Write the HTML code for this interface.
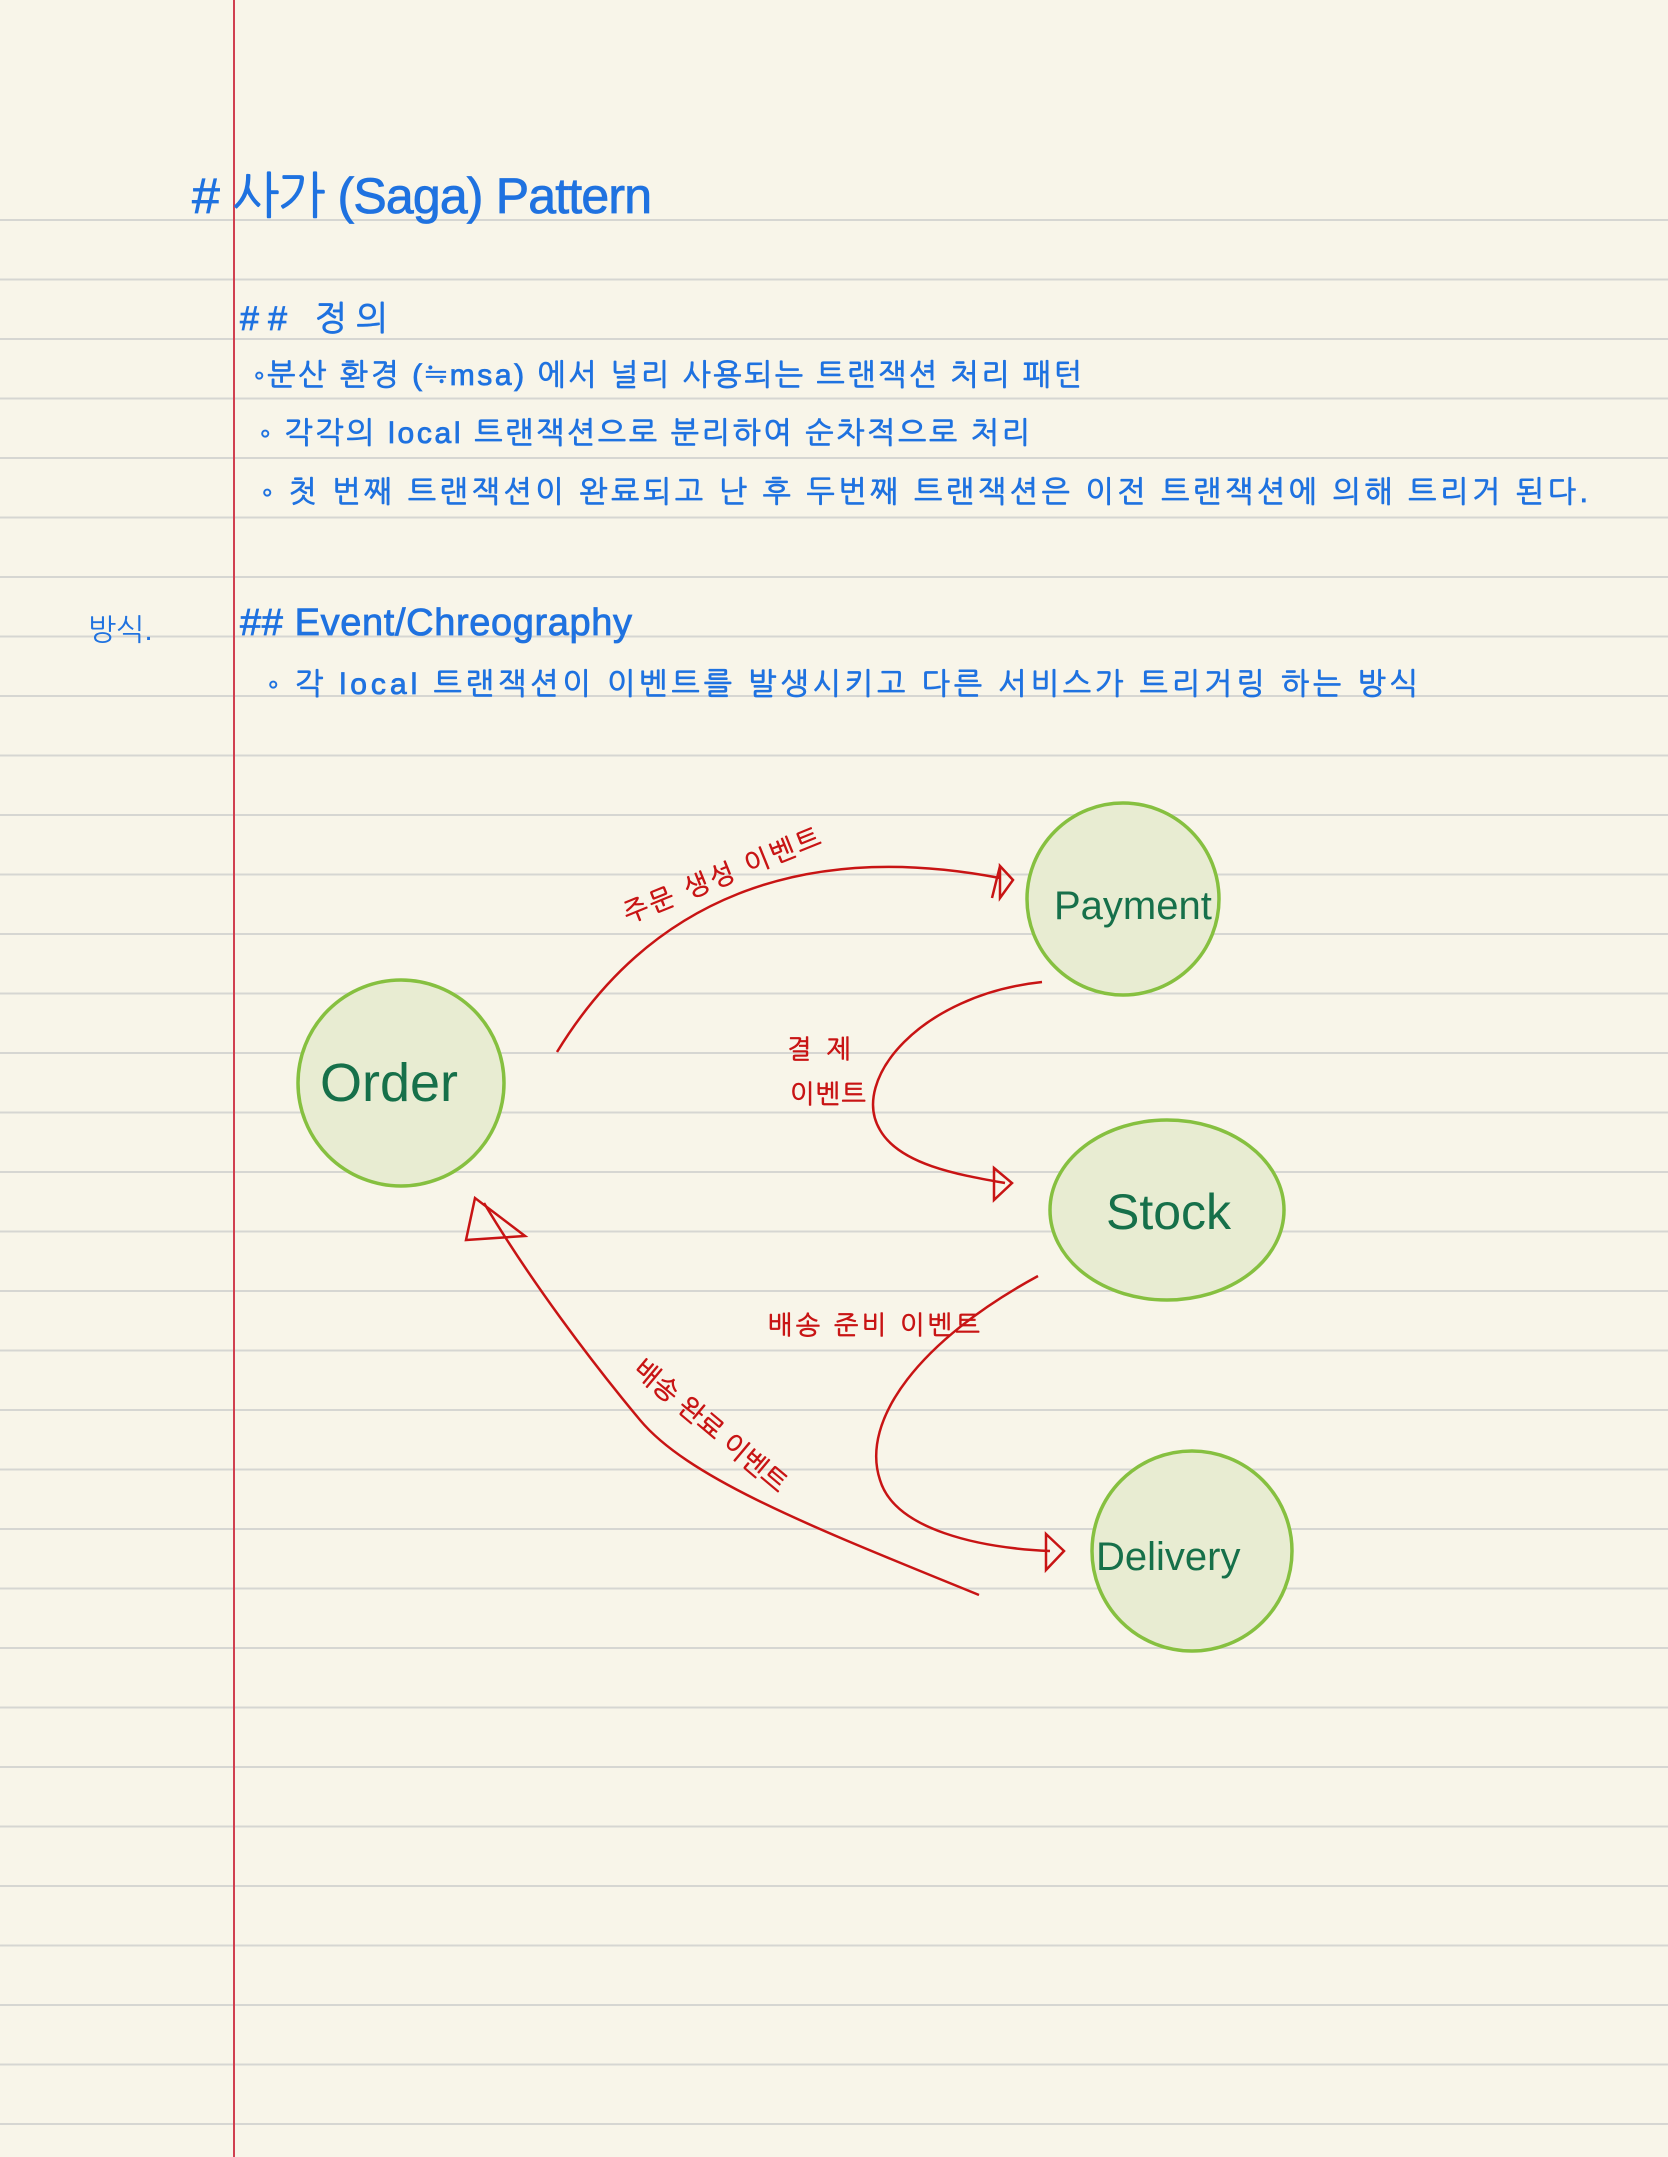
<!DOCTYPE html>
<html><head><meta charset="utf-8"><style>
html,body{margin:0;padding:0;background:#f8f5e9}
svg{display:block}
</style></head><body>
<svg width="1668" height="2157" viewBox="0 0 1668 2157" xmlns="http://www.w3.org/2000/svg">
<rect width="1668" height="2157" fill="#f8f5e9"/>
<g stroke="#d6d6d2" stroke-width="2">
<line x1="0" y1="220" x2="1668" y2="220"/><line x1="0" y1="279.5" x2="1668" y2="279.5"/><line x1="0" y1="339" x2="1668" y2="339"/><line x1="0" y1="398.5" x2="1668" y2="398.5"/><line x1="0" y1="458" x2="1668" y2="458"/><line x1="0" y1="517.5" x2="1668" y2="517.5"/><line x1="0" y1="577" x2="1668" y2="577"/><line x1="0" y1="636.5" x2="1668" y2="636.5"/><line x1="0" y1="696" x2="1668" y2="696"/><line x1="0" y1="755.5" x2="1668" y2="755.5"/><line x1="0" y1="815" x2="1668" y2="815"/><line x1="0" y1="874.5" x2="1668" y2="874.5"/><line x1="0" y1="934" x2="1668" y2="934"/><line x1="0" y1="993.5" x2="1668" y2="993.5"/><line x1="0" y1="1053" x2="1668" y2="1053"/><line x1="0" y1="1112.5" x2="1668" y2="1112.5"/><line x1="0" y1="1172" x2="1668" y2="1172"/><line x1="0" y1="1231.5" x2="1668" y2="1231.5"/><line x1="0" y1="1291" x2="1668" y2="1291"/><line x1="0" y1="1350.5" x2="1668" y2="1350.5"/><line x1="0" y1="1410" x2="1668" y2="1410"/><line x1="0" y1="1469.5" x2="1668" y2="1469.5"/><line x1="0" y1="1529" x2="1668" y2="1529"/><line x1="0" y1="1588.5" x2="1668" y2="1588.5"/><line x1="0" y1="1648" x2="1668" y2="1648"/><line x1="0" y1="1707.5" x2="1668" y2="1707.5"/><line x1="0" y1="1767" x2="1668" y2="1767"/><line x1="0" y1="1826.5" x2="1668" y2="1826.5"/><line x1="0" y1="1886" x2="1668" y2="1886"/><line x1="0" y1="1945.5" x2="1668" y2="1945.5"/><line x1="0" y1="2005" x2="1668" y2="2005"/><line x1="0" y1="2064.5" x2="1668" y2="2064.5"/><line x1="0" y1="2124" x2="1668" y2="2124"/>
</g>
<line x1="234" y1="0" x2="234" y2="2157" stroke="#d04050" stroke-width="2"/>

<g fill="#1f72e0" stroke="#1f72e0" stroke-width="0.8" font-family="'Liberation Sans','NanumGothic','Noto Sans CJK KR',sans-serif">
<text x="192" y="213" font-size="50" textLength="460" lengthAdjust="spacing"># 사가 (Saga) Pattern</text>
<text x="240" y="330" font-size="34" textLength="148" lengthAdjust="spacing">## 정의</text>
<text x="254" y="385" font-size="30" textLength="828" lengthAdjust="spacing">◦분산 환경 (≒msa) 에서  널리 사용되는 트랜잭션 처리 패턴</text>
<text x="260" y="443" font-size="30" textLength="770" lengthAdjust="spacing">◦ 각각의  local  트랜잭션으로  분리하여   순차적으로 처리</text>
<text x="262" y="502" font-size="30" textLength="1326" lengthAdjust="spacing">◦ 첫 번째  트랜잭션이   완료되고  난 후  두번째  트랜잭션은   이전  트랜잭션에  의해 트리거 된다.</text>
<text x="88" y="640" font-size="30" stroke-width="0">방식.</text>
<text x="240" y="635" font-size="38" textLength="392" lengthAdjust="spacing">## Event/Chreography</text>
<text x="268" y="694" font-size="30" textLength="1150" lengthAdjust="spacing">◦ 각  local  트랜잭션이  이벤트를  발생시키고   다른  서비스가  트리거링  하는  방식</text>
</g>

<g fill="#e8ecd2" stroke="#86c040" stroke-width="3.5">
<circle cx="1123" cy="899" r="96"/>
<circle cx="401" cy="1083" r="103"/>
<ellipse cx="1167" cy="1210" rx="117" ry="90"/>
<circle cx="1192" cy="1551" r="100"/>
</g>
<g fill="#16704a" font-family="'Liberation Sans',sans-serif">
<text x="1054" y="919" font-size="40">Payment</text>
<text x="320" y="1101" font-size="54">Order</text>
<text x="1106" y="1229" font-size="50">Stock</text>
<text x="1096" y="1570" font-size="40">Delivery</text>
</g>

<g fill="none" stroke="#c81414" stroke-width="2.5">
<path d="M557 1052 C 650 900 800 840 1000 878"/>
<path d="M1000 866 L1013 880 L1000 898 Z M1000 866 L992 898"/>
<path d="M1042 982 C 920 995 850 1080 880 1130 C 900 1165 960 1175 1005 1183"/>
<path d="M994 1168 L1012 1183 L994 1200 Z"/>
<path d="M1038 1276 C 920 1340 860 1420 880 1480 C 895 1530 980 1548 1050 1551"/>
<path d="M1046 1534 L1064 1551 L1046 1570 Z"/>
<path d="M979 1595 C 820 1530 690 1480 640 1420 C 590 1360 530 1280 484 1203"/>
<path d="M475 1198 L466 1240 L525 1236 Z"/>
</g>
<g fill="#c81414" stroke="#c81414" stroke-width="0.6" font-family="'Liberation Sans','NanumGothic','Noto Sans CJK KR',sans-serif" font-size="26">
<text transform="translate(628 923) rotate(-22)" textLength="210" lengthAdjust="spacing">주문  생성  이벤트</text>
<text x="787" y="1058" textLength="64" lengthAdjust="spacing">결제</text>
<text x="790" y="1103" textLength="76" lengthAdjust="spacing">이벤트</text>
<text x="768" y="1334" textLength="212" lengthAdjust="spacing">배송 준비 이벤트</text>
<text transform="translate(632 1372) rotate(40)" textLength="190" lengthAdjust="spacing">배송  완료  이벤트</text>
</g>
</svg>
</body></html>
